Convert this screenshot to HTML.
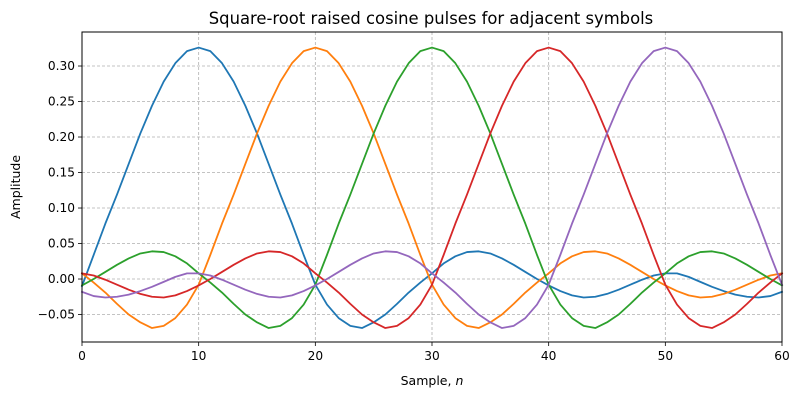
<!DOCTYPE html>
<html><head><meta charset="utf-8"><style>
body{margin:0;background:#fff;}
svg{display:block;font-family:"DejaVu Sans","Liberation Sans",sans-serif;}
</style></head><body>
<svg id="chart" width="800" height="400" viewBox="0 0 800 400">
<rect width="800" height="400" fill="#fff"/>
<text x="431" y="24" text-anchor="middle" font-size="16.4" fill="#000">Square-root raised cosine pulses for adjacent symbols</text>
<g id="grid"></g>
<g id="series"></g>
<rect x="82" y="32" width="700" height="310" fill="none" stroke="#000" stroke-width="1"/>
<g id="ticks"></g>
<text x="432" y="385" text-anchor="middle" font-size="12.5">Sample, <tspan font-style="italic">n</tspan></text>
<text transform="translate(20,187) rotate(-90)" text-anchor="middle" font-size="12.5">Amplitude</text>
</svg>
<script>
const xTicks = [0,10,20,30,40,50,60];
const yTicks = [-0.05,0,0.05,0.10,0.15,0.20,0.25,0.30];
const yTickLabels = ["−0.05","0.00","0.05","0.10","0.15","0.20","0.25","0.30"];
const seriesNames = ["pulse-n10","pulse-n20","pulse-n30","pulse-n40","pulse-n50"];
const seriesColors = ["#1f77b4","#ff7f0e","#2ca02c","#d62728","#9467bd"];
const blueValues = [-.010,.034,.078,.119,.162,.205,.244,.278,.304,.321,.326,.321,.304,.278,.244,.205,.162,.119,.078,.034,-.008,-.036,-.055,-.066,-.069,-.061,-.050,-.035,-.019,-.005,.008,.022,.032,.038,.039,.036,.029,.020,.010,.000,-.009,-.017,-.023,-.026,-.025,-.021,-.015,-.008,-.001,.005,.008,.008,.003,-.004,-.011,-.017,-.022,-.025,-.026,-.024,-.018];
const orangeValues = [.008,-.005,-.019,-.035,-.050,-.061,-.069,-.066,-.055,-.036,-.008,.034,.078,.119,.162,.205,.244,.278,.304,.321,.326,.321,.304,.278,.244,.205,.162,.119,.078,.034,-.008,-.036,-.055,-.066,-.069,-.061,-.050,-.035,-.019,-.005,.008,.022,.032,.038,.039,.036,.029,.020,.010,.000,-.009,-.017,-.023,-.026,-.025,-.021,-.015,-.008,-.001,.005,.008];
const greenValues = [-.009,.000,.010,.020,.029,.036,.039,.038,.032,.022,.008,-.005,-.019,-.035,-.050,-.061,-.069,-.066,-.055,-.036,-.008,.034,.078,.119,.162,.205,.244,.278,.304,.321,.326,.321,.304,.278,.244,.205,.162,.119,.078,.034,-.008,-.036,-.055,-.066,-.069,-.061,-.050,-.035,-.019,-.005,.008,.022,.032,.038,.039,.036,.029,.020,.010,.000,-.009];
const redValues = [.008,.005,-.001,-.008,-.015,-.021,-.025,-.026,-.023,-.017,-.009,.000,.010,.020,.029,.036,.039,.038,.032,.022,.008,-.005,-.019,-.035,-.050,-.061,-.069,-.066,-.055,-.036,-.008,.034,.078,.119,.162,.205,.244,.278,.304,.321,.326,.321,.304,.278,.244,.205,.162,.119,.078,.034,-.008,-.036,-.055,-.066,-.069,-.061,-.050,-.035,-.019,-.005,.008];
const purpleValues = [-.018,-.024,-.026,-.025,-.022,-.017,-.011,-.004,.003,.008,.008,.005,-.001,-.008,-.015,-.021,-.025,-.026,-.023,-.017,-.009,.000,.010,.020,.029,.036,.039,.038,.032,.022,.008,-.005,-.019,-.035,-.050,-.061,-.069,-.066,-.055,-.036,-.008,.034,.078,.119,.162,.205,.244,.278,.304,.321,.326,.321,.304,.278,.244,.205,.162,.119,.078,.034,-.008];
const allSeries = [blueValues,orangeValues,greenValues,redValues,purpleValues];

const NS="http://www.w3.org/2000/svg";
const L=82,R=782,T=32,B=342,XMIN=0,XMAX=60,YMIN=-0.0887,YMAX=0.3479;
function xs(v){return L+(v-XMIN)/(XMAX-XMIN)*(R-L);}
function ys(v){return B-(v-YMIN)/(YMAX-YMIN)*(B-T);}
function mk(tag,attrs,parent){const e=document.createElementNS(NS,tag);for(const k in attrs)e.setAttribute(k,attrs[k]);parent.appendChild(e);return e;}
const grid=document.getElementById('grid'),ticks=document.getElementById('ticks'),sg=document.getElementById('series');
xTicks.forEach(v=>{
  const x=xs(v);
  const g=mk('line',{x1:x,x2:x,y1:T,y2:B,stroke:'#b0b0b0','stroke-width':0.8,'stroke-dasharray':'3,2'},grid);
  
  
  const t=mk('line',{x1:x,x2:x,y1:B,y2:B+4,stroke:'#000','stroke-width':0.8},ticks);
  
  
  const lb=mk('text',{x:x,y:B+18,'text-anchor':'middle','font-size':12.2},ticks);
  lb.textContent=String(v);
  
  
});
yTicks.forEach((v,i)=>{
  const y=ys(v);
  const g=mk('line',{x1:L,x2:R,y1:y,y2:y,stroke:'#b0b0b0','stroke-width':0.8,'stroke-dasharray':'3,2'},grid);
  
  
  const t=mk('line',{x1:L-4,x2:L,y1:y,y2:y,stroke:'#000','stroke-width':0.8},ticks);
  
  
  const lb=mk('text',{x:L-7,y:y+4,'text-anchor':'end','font-size':12.2},ticks);
  lb.textContent=yTickLabels[i];
  
  
});
allSeries.forEach((vals,si)=>{
  const d=vals.map((v,n)=>(n?'L':'M')+xs(n).toFixed(2)+','+ys(v).toFixed(2)).join(' ');
  const p=mk('path',{d:d,fill:'none',stroke:seriesColors[si],'stroke-width':1.8,'stroke-linejoin':'round','stroke-linecap':'square'},sg);
  
  
});
</script>
</body></html>
